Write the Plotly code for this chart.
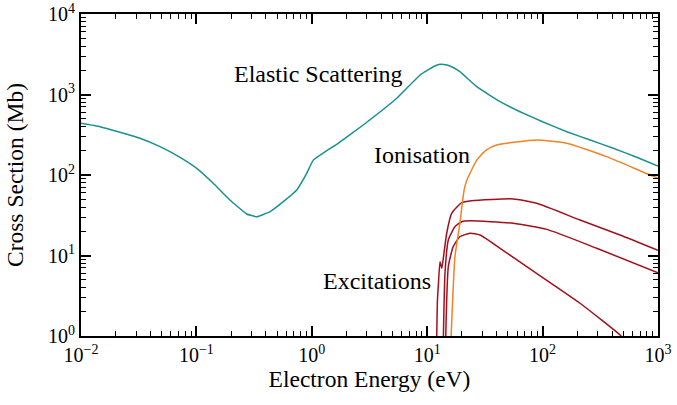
import plotly.graph_objects as go

# Electron-impact cross sections (energy in eV, cross section in Mb)
elastic_energy = [0.01, 0.0146, 0.0218, 0.0324, 0.0484, 0.0721, 0.1007, 0.140, 0.195, 0.273,
                  0.333, 0.435, 0.566, 0.740, 0.903, 1.03, 1.38, 1.644, 2.79, 5.45, 8.67,
                  11.3, 12.9, 14.8, 16.3, 19.2, 26.9, 42.8, 63.7, 101, 162, 258, 410, 646, 1000]
elastic_xs = [439, 398, 339, 286, 225, 166, 121, 78.9, 48.9, 32.8,
              30.3, 35.0, 46.6, 65.2, 105, 153, 205, 240, 418, 897, 1746,
              2213, 2371, 2323, 2213, 1919, 1250, 815, 611, 455, 345, 272, 215, 167, 129]

ion_energy = [16.07, 17.4, 19.2, 20.9, 22.1, 26.9, 32.4, 40.0, 88.9, 162, 359, 853, 1000]
ion_xs = [0.891, 9.66, 25.1, 65.2, 86.7, 153, 204, 236, 272, 248, 169, 100, 91.8]

exc_a_energy = [12.08, 12.27, 12.47, 12.91, 13.37, 13.80, 14.76, 16.29, 19.91, 24.3, 55.7, 88.9, 211, 469, 1000]
exc_a_xs = [0.891, 2.80, 4.09, 8.38, 6.93, 9.31, 18.9, 33.4, 45.3, 48.0, 50.4, 44.5, 27.6, 18.0, 11.6]

exc_b_energy = [13.80, 14.26, 15.24, 17.4, 19.9, 23.5, 55.7, 109, 294, 1000]
exc_b_xs = [0.891, 6.01, 15.6, 22.8, 26.3, 27.0, 25.1, 21.1, 12.3, 6.11]

exc_c_energy = [14.45, 15.24, 16.8, 19.2, 23.5, 28.7, 42.8, 72.8, 211, 469, 571]
exc_c_xs = [0.891, 7.26, 12.9, 17.1, 18.9, 18.0, 12.3, 7.26, 2.55, 1.03, 0.776]

x_tick_exp = [-2, -1, 0, 1, 2, 3]
x_tick_text = ["10<sup>−2</sup>", "10<sup>−1</sup>", "10<sup>0</sup>",
               "10<sup>1</sup>", "10<sup>2</sup>", "10<sup>3</sup>"]
y_tick_exp = [0, 1, 2, 3, 4]
y_tick_text = ["10<sup>0</sup>", "10<sup>1</sup>", "10<sup>2</sup>",
               "10<sup>3</sup>", "10<sup>4</sup>"]

TEAL = "#1a9190"
ORANGE = "#f08326"
DARKRED = "#a3101c"
FONT = "Liberation Serif"

fig = go.Figure()
fig.add_trace(go.Scatter(x=elastic_energy, y=elastic_xs, mode="lines",
                         line=dict(color=TEAL, width=1.5, shape="spline", smoothing=0.3)))
for ex, ey in [(exc_a_energy, exc_a_xs), (exc_b_energy, exc_b_xs), (exc_c_energy, exc_c_xs)]:
    fig.add_trace(go.Scatter(x=ex, y=ey, mode="lines",
                             line=dict(color=DARKRED, width=1.5, shape="spline", smoothing=0.5)))
fig.add_trace(go.Scatter(x=ion_energy, y=ion_xs, mode="lines",
                         line=dict(color=ORANGE, width=1.5, shape="spline", smoothing=0.5)))

def minor_vals(lo, hi):
    return [m * 10.0 ** e for e in range(lo, hi) for m in range(2, 10)]

axis_common = dict(
    type="log", showgrid=False, zeroline=False, automargin=False,
    showline=True, linecolor="black", linewidth=2, mirror="allticks",
    ticks="inside", ticklen=10, tickwidth=1.5, tickcolor="black",
    tickfont=dict(family=FONT, size=20, color="black"),
)

fig.update_xaxes(
    **axis_common,
    range=[-2, 3],
    tickvals=[10.0 ** e for e in x_tick_exp], ticktext=x_tick_text,
    minor=dict(tickvals=minor_vals(-2, 3), ticks="inside", ticklen=5,
               tickwidth=1.2, tickcolor="black", showgrid=False),
    title=dict(text="Electron Energy (eV)", font=dict(family=FONT, size=23.5, color="black"),
               standoff=6),
)
fig.update_yaxes(
    **axis_common,
    range=[0, 4],
    tickvals=[10.0 ** e for e in y_tick_exp], ticktext=y_tick_text,
    minor=dict(tickvals=minor_vals(0, 4), ticks="inside", ticklen=5,
               tickwidth=1.2, tickcolor="black", showgrid=False),
    title=dict(text="Cross Section (Mb)", font=dict(family=FONT, size=23.5, color="black")),
)

labels = [("Elastic Scattering", 0.058, 3.255),
          ("Ionisation", 0.951, 2.248),
          ("Excitations", 0.561, 0.683)]
for text, lx, ly in labels:
    fig.add_annotation(x=lx, y=ly, text=text, showarrow=False,
                       font=dict(family=FONT, size=24, color="black"))

fig.update_layout(
    template="none",
    width=677, height=405,
    margin=dict(l=81, r=19, t=14, b=69),
    paper_bgcolor="white", plot_bgcolor="white",
    showlegend=False,
)

fig.write_html("out.html")
